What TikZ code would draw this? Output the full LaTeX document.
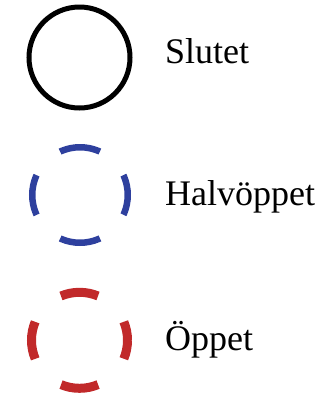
\documentclass[tikz,border=0pt]{standalone}
\usepackage{fontspec}
\setmainfont{Liberation Serif}
\definecolor{stateblack}{RGB}{0,0,0}
\definecolor{stateblue}{RGB}{46,64,158}
\definecolor{statered}{RGB}{193,41,42}
\begin{document}
\begin{tikzpicture}[x=1bp,y=-1bp,
  ring/.style={circle,inner sep=0pt,outer sep=0pt,minimum size=#1},
  % four dashes centred at east, north, west and south
  quarterdash/.style args={#1 and #2}{dash pattern=on #1bp off #2bp, dash phase=#1/2*1bp},
  label/.style={anchor=base west,inner sep=0pt,font=\fontsize{36bp}{40bp}\selectfont}]
  \useasboundingbox (0,0) rectangle (331,399);

  % closed
  \node[ring=101bp,draw=stateblack,line width=5bp] (closed) at (79.5,57.5) {};
  % half open: r = 47.75bp, circumference/4 = 75.0bp
  \node[ring=95.5bp,draw=stateblue,line width=6.5bp,quarterdash={41 and 34.01}] (half) at (80,195) {};
  % open: r = 48bp, circumference/4 = 75.40bp
  \node[ring=96bp,draw=statered,line width=9bp,quarterdash={38 and 37.40}] (open) at (79.5,340.3) {};

  \node[label] (tclosed) at (165,63.3) {Slutet};
  \node[label] (thalf) at (165,205.7) {Halvöppet};
  \node[label] (topen) at (165,350) {Öppet};
\end{tikzpicture}
\end{document}
